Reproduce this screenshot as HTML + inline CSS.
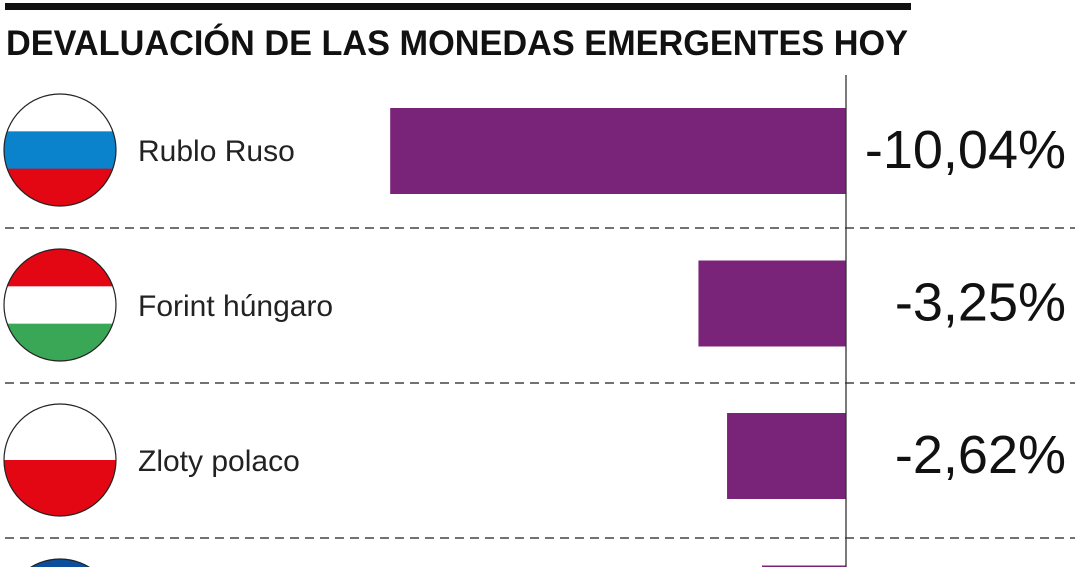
<!DOCTYPE html>
<html><head><meta charset="utf-8"><style>
html,body{margin:0;padding:0;background:#fff;width:1080px;height:567px;overflow:hidden}
svg{display:block;overflow:hidden}
</style></head><body>
<svg id="chart" width="1080" height="567" viewBox="0 0 1080 567">
<rect x="5" y="3" width="906" height="7" fill="#111"/>
<text x="6" y="55" font-family="Liberation Sans, sans-serif" font-weight="bold" font-size="35" textLength="902" lengthAdjust="spacingAndGlyphs" fill="#111">DEVALUACIÓN DE LAS MONEDAS EMERGENTES HOY</text>
<defs>
<clipPath id="c0"><circle cx="60" cy="150" r="56"/></clipPath>
<clipPath id="c1"><circle cx="60" cy="305" r="56"/></clipPath>
<clipPath id="c2"><circle cx="60" cy="460" r="56"/></clipPath>
<clipPath id="c3"><circle cx="60" cy="615" r="56"/></clipPath>
<clipPath id="frame"><rect x="0" y="0" width="1080" height="567"/></clipPath>
</defs>
<g id="rows" clip-path="url(#frame)"></g>
<line x1="846" y1="75" x2="846" y2="567" stroke="#333" stroke-width="1.3"/>
</svg>
<script>
const categories = ["Rublo Ruso", "Forint húngaro", "Zloty polaco", "Corona checa"];
const values = [-10.04, -3.25, -2.62, -1.85];
const valueLabels = ["-10,04%", "-3,25%", "-2,62%", "-1,85%"];
const flagColors = [["#ffffff","#0a82cc","#e30613"],["#e30613","#ffffff","#3aa757"],["#ffffff","#e30613"],["#0d4e9c","#ffffff","#e30613"]];

const NS = "http://www.w3.org/2000/svg";
const g = document.getElementById("rows");
const zeroX = 846, pxPerUnit = 45.4, rowTop = 75, rowH = 155, barStep = 152.5;
function xScale(v){ return zeroX + v * pxPerUnit; }
function mk(tag, attrs){ const e = document.createElementNS(NS, tag); for (const k in attrs) e.setAttribute(k, attrs[k]); return e; }

categories.forEach((cat, i) => {
  const cy = rowTop + rowH * i + 75;
  const cols = flagColors[i];
  const fg = mk("g", {"clip-path": "url(#c" + i + ")"});
  
  
  const n = cols.length, top = cy - 56, h = 112 / n;
  cols.forEach((c, j) => {
    fg.appendChild(mk("rect", {x: 4, y: top + h * j, width: 112, height: h + 0.5, fill: c}));
  });
  g.appendChild(fg);
  const ring = mk("circle", {cx: 60, cy: cy, r: 56, fill: "none", stroke: "#222", "stroke-width": 1.2});
  
  
  g.appendChild(ring);
  const t = mk("text", {x: 138, y: cy + 11, "font-family": "Liberation Sans, sans-serif", "font-size": 30, fill: "#222"});
  t.textContent = cat;
  
  
  g.appendChild(t);
  const x0 = xScale(values[i]);
  const by = 108 + barStep * i;
  const b = mk("rect", {x: x0, y: by, width: zeroX - x0, height: 86, fill: "#7a2479"});
  
  
  g.appendChild(b);
  const v = mk("text", {x: 1066, y: by + 60, "text-anchor": "end", "font-family": "Liberation Sans, sans-serif", "font-size": 54, fill: "#111"});
  v.textContent = valueLabels[i];
  
  
  g.appendChild(v);
  if (i < categories.length - 1) {
    const d = mk("line", {x1: 5, y1: cy + 78, x2: 1075, y2: cy + 78, stroke: "#444", "stroke-width": 1.5, "stroke-dasharray": "9,6"});
    
    
    g.appendChild(d);
  }
});
</script>
</body></html>
